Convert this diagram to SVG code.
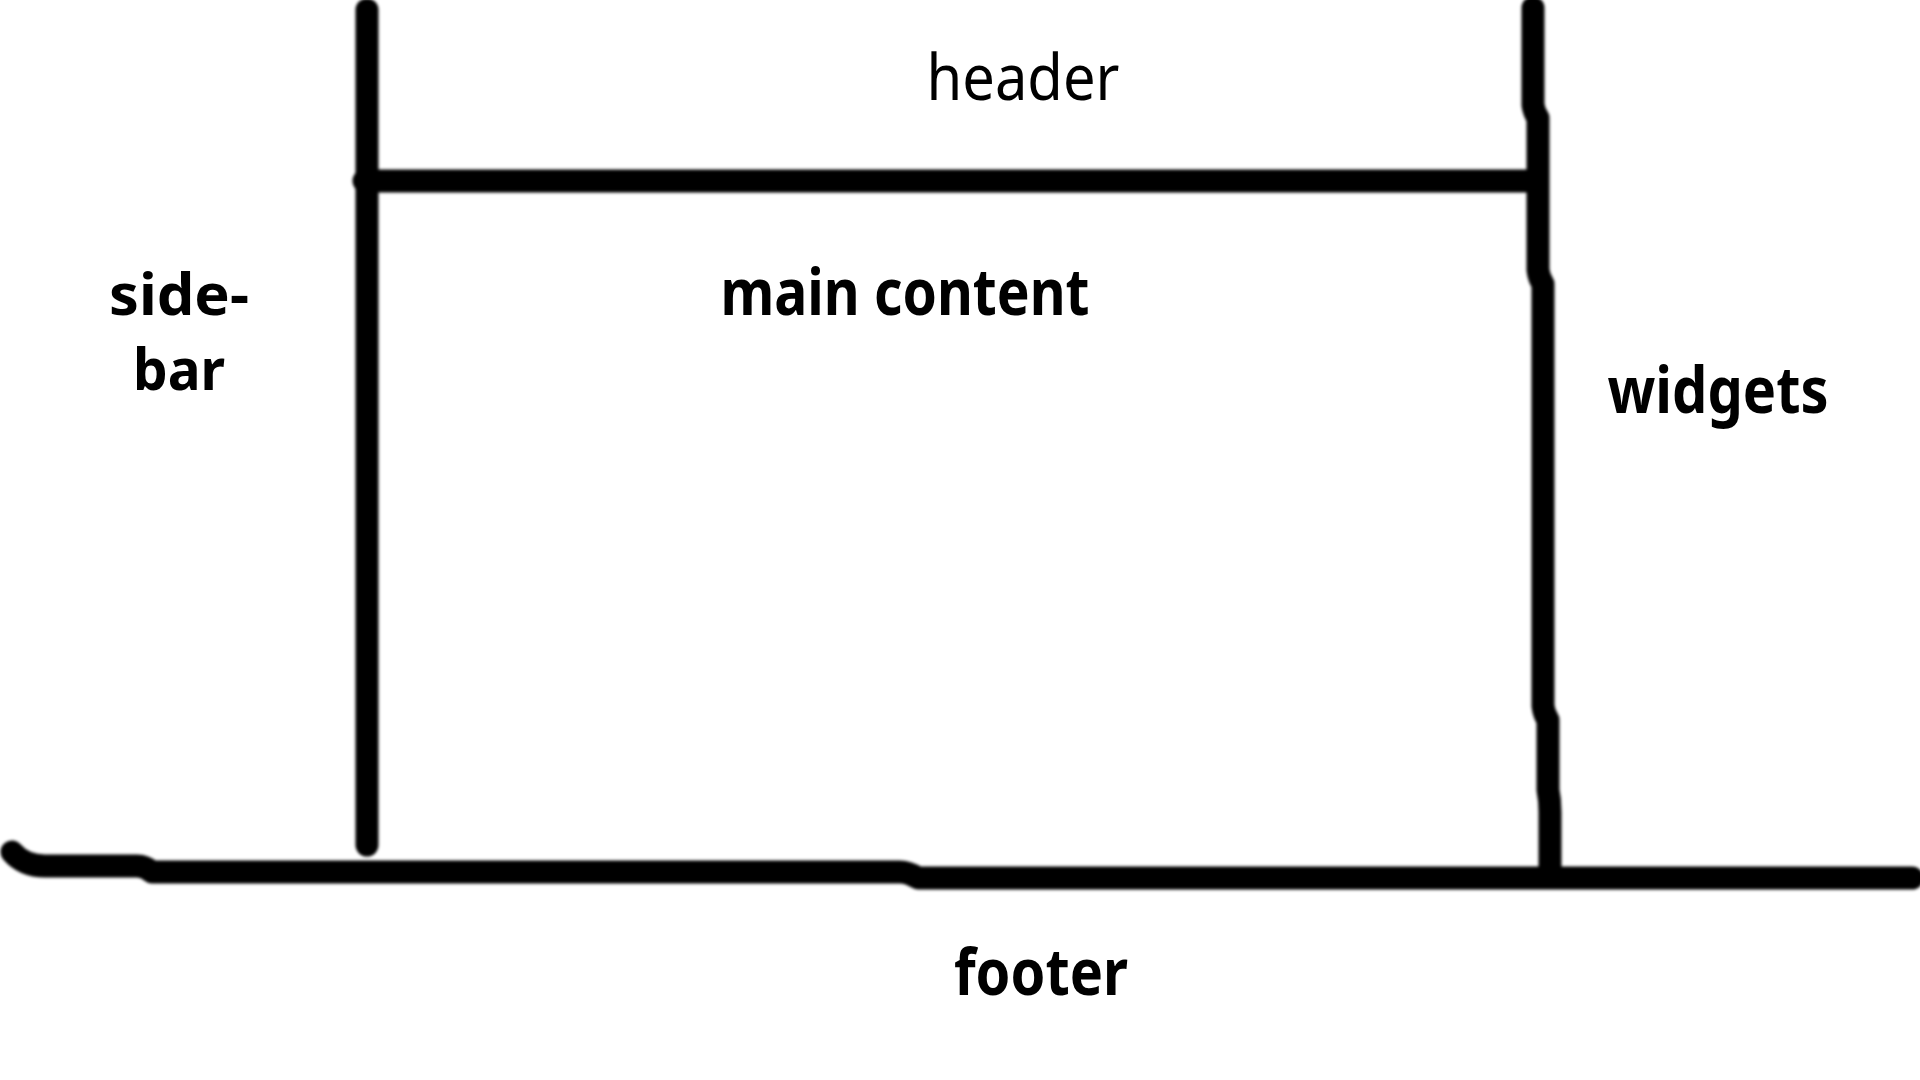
<svg xmlns="http://www.w3.org/2000/svg" width="1920" height="1080" viewBox="0 0 1920 1080">
  <style>
    .ln { fill: none; stroke: #000; stroke-width: 23; stroke-linecap: round; stroke-linejoin: round; }
    .lbl { font-family: "Noto Sans", "Open Sans", sans-serif; font-size: 64px; fill: #000; text-anchor: middle; }
    .sm { font-size: 58px; }
    .b { font-weight: 700; }
    .n { font-weight: 400; }
  </style>
  <defs>
    <filter id="soft" x="-5%" y="-5%" width="110%" height="110%">
      <feGaussianBlur stdDeviation="1.8"/>
    </filter>
  </defs>
  <rect width="1920" height="1080" fill="#fff"/>
  <g id="connectors" filter="url(#soft)">
    <path class="ln" d="M 367 10 L 367 845"/>
    <path class="ln" d="M 364 181 L 1537 181"/>
    <path class="ln" d="M 1533 8 L 1533 105 Q 1534 112 1538 118 L 1538 270 Q 1539 278 1543 284 L 1543 706 Q 1544 714 1548 720 L 1548 790 Q 1550 800 1550 812 L 1550 872"/>
    <path class="ln" d="M 12 852 Q 24 866 45 866 L 137 866 Q 145 866 152 872 L 900 872 Q 908 872 918 878 L 1912 878"/>
  </g>
  <g id="header"><text class="lbl n" x="1023" y="100" textLength="193" lengthAdjust="spacingAndGlyphs">header</text></g>
  <g id="sidebar">
    <text class="lbl b sm" x="179" y="315" textLength="140" lengthAdjust="spacingAndGlyphs">side-</text>
    <text class="lbl b sm" x="179" y="390" textLength="92" lengthAdjust="spacingAndGlyphs">bar</text>
  </g>
  <g id="main"><text class="lbl b" x="905" y="315" textLength="369" lengthAdjust="spacingAndGlyphs">main content</text></g>
  <g id="widgets"><text class="lbl b" x="1718" y="413" textLength="221" lengthAdjust="spacingAndGlyphs">widgets</text></g>
  <g id="footer"><text class="lbl b" x="1041" y="995" textLength="174" lengthAdjust="spacingAndGlyphs">footer</text></g>
</svg>
